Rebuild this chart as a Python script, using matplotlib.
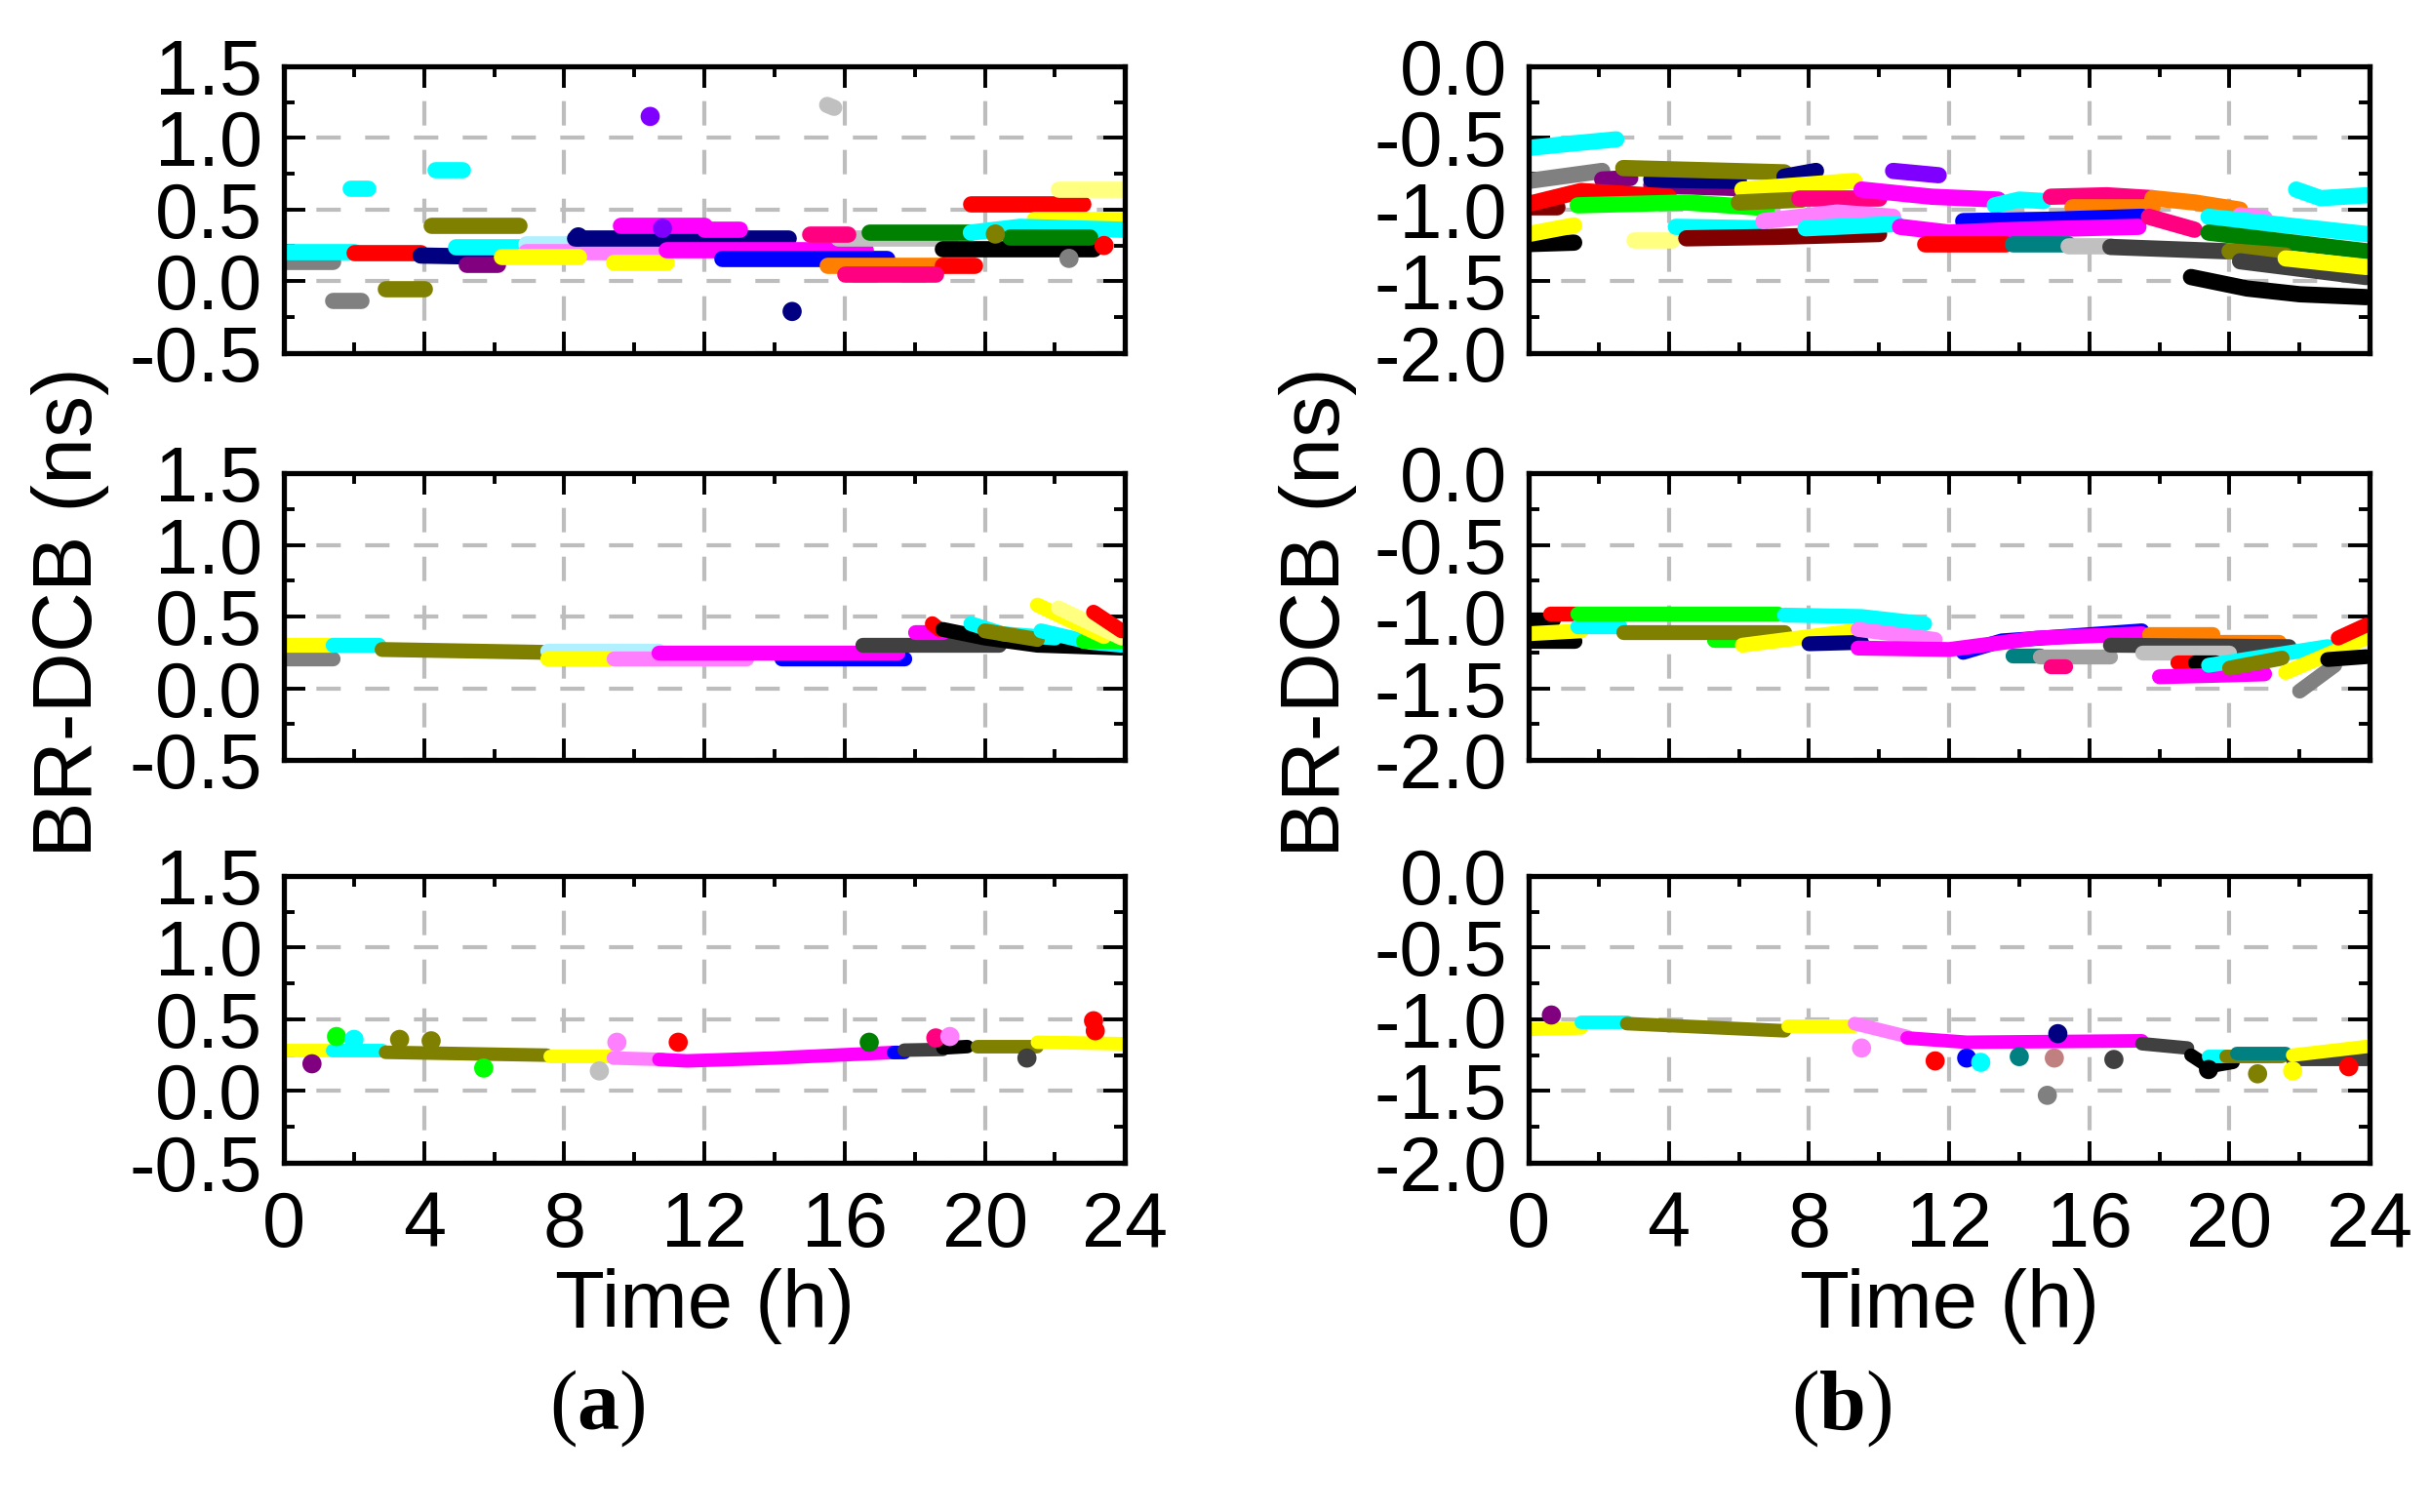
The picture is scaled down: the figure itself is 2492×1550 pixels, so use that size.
import matplotlib
matplotlib.use("Agg")
from matplotlib import pyplot as plt
from matplotlib.ticker import MultipleLocator, FormatStrFormatter

plt.rcParams['font.family'] = ['Liberation Sans', 'DejaVu Sans']
plt.rcParams['axes.unicode_minus'] = False
plt.rcParams['mathtext.fontset'] = 'custom'
plt.rcParams['mathtext.rm'] = 'Liberation Serif'
plt.rcParams['mathtext.bf'] = 'Liberation Serif:bold'

# Origin style colour names
BLK = '#000000'; RED = '#FF0000'; BLU = '#0000FF'; MAG = '#FF00FF'
OLV = '#808000'; NAV = '#000080'; PUR = '#800080'; WIN = '#800000'
TEA = '#008080'; ORA = '#FF8000'; VIO = '#8000FF'; PNK = '#FF0080'
LGR = '#C0C0C0'; GRY = '#808080'; LYL = '#FFFF80'; LMG = '#FF80FF'
DGR = '#404040'; GRN = '#00FF00'; CYN = '#00FFFF'; YEL = '#FFFF00'
DGN = '#008000'; LBL = '#B0F0FF'

##########################################
# (a) top panel : arcs (times, values, colour)

a1_times = [[0.0, 1.4], [0.1, 2.0], [2.0, 3.9], [3.9, 6.1], [5.2, 6.1],
            [4.9, 6.7], [6.9, 10.9], [6.9, 10.9], [6.2, 8.4], [9.4, 10.9],
            [4.2, 6.7], [4.3, 5.1], [1.4, 2.2], [2.9, 4.0], [1.9, 2.4],
            [8.3, 14.4], [9.6, 12.0], [12.0, 13.0], [10.9, 16.6], [12.5, 17.2],
            [15.5, 18.8], [18.8, 19.7], [16.0, 18.6], [15.8, 19.0], [15.0, 16.1],
            [16.7, 19.6], [18.8, 23.1], [19.6, 22.8], [22.1, 23.9], [21.4, 23.9],
            [19.6, 21.0, 23.9], [20.7, 23.0], [15.5, 15.7]]
a1_vals = [[0.14, 0.14], [0.21, 0.21], [0.20, 0.20], [0.18, 0.17], [0.12, 0.12],
           [0.24, 0.24], [0.26, 0.26], [0.21, 0.21], [0.17, 0.17], [0.13, 0.13],
           [0.39, 0.39], [0.78, 0.78], [-0.13, -0.13], [-0.05, -0.05], [0.65, 0.65],
           [0.30, 0.30], [0.39, 0.39], [0.36, 0.36], [0.22, 0.22], [0.16, 0.16],
           [0.11, 0.11], [0.11, 0.11], [0.05, 0.05], [0.30, 0.30], [0.33, 0.33],
           [0.34, 0.34], [0.23, 0.23], [0.54, 0.54], [0.64, 0.64], [0.43, 0.43],
           [0.34, 0.38, 0.36], [0.31, 0.31], [1.23, 1.21]]
a1_cols = [GRY, CYN, RED, NAV, PUR,
           CYN, LBL, LMG, YEL, YEL,
           OLV, CYN, GRY, OLV, CYN,
           NAV, MAG, MAG, MAG, BLU,
           ORA, RED, PNK, LGR, PNK,
           DGN, BLK, RED, LYL, YEL,
           CYN, DGN, LGR]
a1_dot_t = [10.45, 14.5, 10.8, 20.3, 22.4, 23.4, 8.4]
a1_dot_v = [1.15, -0.21, 0.37, 0.33, 0.16, 0.25, 0.31]
a1_dot_c = [VIO, NAV, VIO, OLV, GRY, RED, NAV]

# (a) middle panel
a2_times = [[0.0, 1.4], [0.0, 1.4], [1.4, 2.7], [2.8, 7.5], [7.5, 10.7],
            [7.5, 9.4], [9.4, 13.2], [14.2, 17.7], [10.7, 17.5], [16.5, 20.4],
            [18.0, 18.8], [18.5, 18.7], [18.8, 20.0, 21.5, 23.9], [19.6, 20.5, 22.0],
            [20.0, 21.5], [21.6, 23.0, 23.9], [22.8, 23.9], [21.5, 23.4],
            [22.1, 23.9], [23.1, 23.9]]
a2_vals = [[0.21, 0.21], [0.30, 0.30], [0.30, 0.30], [0.27, 0.25], [0.26, 0.26],
           [0.21, 0.21], [0.21, 0.21], [0.21, 0.21], [0.25, 0.25], [0.30, 0.30],
           [0.39, 0.39], [0.45, 0.41], [0.41, 0.35, 0.30, 0.28], [0.45, 0.38, 0.35],
           [0.40, 0.34], [0.40, 0.32, 0.30], [0.33, 0.33], [0.58, 0.36],
           [0.56, 0.35], [0.53, 0.40]]
a2_cols = [GRY, YEL, CYN, OLV, LBL,
           YEL, LMG, BLU, MAG, DGR,
           MAG, RED, BLK, CYN,
           OLV, CYN, GRN, YEL,
           LYL, RED]

# (a) bottom panel
a3_times = [[0.0, 1.4], [1.4, 2.8], [2.9, 7.5], [7.6, 9.4], [9.4, 10.8],
            [10.7, 11.5, 14.0, 17.5], [17.4, 17.7], [17.7, 18.8], [18.8, 19.5],
            [19.8, 21.5], [21.5, 23.9]]
a3_vals = [[0.285, 0.285], [0.285, 0.285], [0.27, 0.25], [0.24, 0.24], [0.23, 0.22],
           [0.22, 0.21, 0.23, 0.27], [0.27, 0.27], [0.285, 0.29], [0.30, 0.31],
           [0.31, 0.31], [0.34, 0.33]]
a3_cols = [YEL, CYN, OLV, YEL, LMG,
           MAG, BLU, DGR, BLK,
           OLV, YEL]
a3_dot_t = [0.8, 1.5, 2.0, 3.3, 4.2, 5.7, 9.0, 9.5, 11.25, 16.7, 18.6, 19.0, 23.1, 23.15, 21.2]
a3_dot_v = [0.19, 0.38, 0.36, 0.36, 0.35, 0.16, 0.14, 0.34, 0.34, 0.34, 0.37, 0.38, 0.49, 0.42, 0.23]
a3_dot_c = [PUR, GRN, CYN, OLV, OLV, GRN, LGR, LMG, RED, DGN, PNK, LMG, RED, RED, DGR]

##########################################
# (b) top panel

b1_times = [[0.0, 1.2, 2.5], [0.0, 2.1], [2.1, 2.9], [3.5, 6.0], [3.5, 6.0],
            [2.7, 7.3], [7.3, 8.2], [6.1, 9.3], [10.4, 11.7], [0.0, 0.8],
            [0.0, 1.5, 4.0], [1.4, 4.5, 6.8], [6.0, 7.8], [7.7, 10.0],
            [9.5, 11.5, 13.4], [13.3, 14.0, 14.7], [14.9, 16.5, 17.8], [15.5, 17.8],
            [17.8, 19.0, 20.3], [20.3, 21.0], [21.9, 22.6, 23.9], [0.0, 1.3],
            [0.0, 1.3], [3.0, 4.1], [4.2, 6.6], [4.5, 7.0, 10.0],
            [6.7, 8.8, 10.4], [7.9, 10.5], [12.4, 15.0, 17.5], [10.6, 12.0, 14.0, 17.4],
            [11.3, 13.6], [13.8, 15.4], [15.4, 16.6], [16.6, 19.9], [17.7, 19.0],
            [19.4, 23.9], [19.4, 23.9], [20.0, 21.6], [20.3, 23.9], [21.6, 23.9],
            [18.9, 20.5, 22.0, 23.9]]
b1_vals = [[-0.57, -0.54, -0.51], [-0.80, -0.73], [-0.79, -0.78], [-0.83, -0.85], [-0.79, -0.80],
           [-0.71, -0.74], [-0.77, -0.73], [-0.86, -0.80], [-0.73, -0.76], [-0.98, -0.98],
           [-0.96, -0.87, -0.91], [-0.97, -0.95, -0.99], [-0.95, -0.93], [-0.92, -0.92],
           [-0.86, -0.91, -0.93], [-0.97, -0.93, -0.94], [-0.91, -0.90, -0.92], [-0.98, -0.98],
           [-0.92, -0.95, -1.00], [-1.04, -1.06], [-0.86, -0.92, -0.90], [-1.24, -1.23],
           [-1.17, -1.11], [-1.21, -1.21], [-1.12, -1.13], [-1.20, -1.19, -1.17],
           [-1.08, -1.02, -1.05], [-1.13, -1.10], [-1.08, -1.07, -1.05], [-1.12, -1.16, -1.14, -1.12],
           [-1.24, -1.24], [-1.24, -1.24], [-1.25, -1.25], [-1.26, -1.29], [-1.05, -1.14],
           [-1.05, -1.17], [-1.16, -1.29], [-1.29, -1.32], [-1.36, -1.47], [-1.34, -1.40],
           [-1.47, -1.55, -1.59, -1.61]]
b1_cols = [CYN, GRY, PUR, PUR, NAV,
           OLV, NAV, YEL, VIO, WIN,
           RED, GRN, OLV, PNK,
           MAG, CYN, PNK, ORA,
           ORA, LMG, CYN, BLK,
           YEL, LYL, CYN, WIN,
           LMG, CYN, BLU, MAG,
           RED, TEA, LGR, DGR, PNK,
           CYN, DGN, OLV, DGR, YEL,
           BLK]

# (b) middle panel
b2_times = [[0.0, 0.7], [0.6, 1.4], [0.0, 1.3], [0.0, 1.5], [1.4, 2.6],
            [1.4, 7.1], [5.3, 5.9], [2.7, 7.3], [7.3, 9.5, 11.3], [6.1, 9.3],
            [8.0, 9.5], [9.4, 11.6], [12.4, 13.5, 17.5], [9.4, 12.0, 14.5, 17.5],
            [13.8, 14.6], [14.6, 16.6], [14.9, 15.3], [17.7, 19.5], [19.5, 21.4],
            [16.6, 21.7], [17.5, 20.0], [18.5, 19.0], [19.0, 19.6],
            [18.0, 19.6, 21.0], [19.4, 22.8], [20.0, 21.5], [22.0, 23.0],
            [21.6, 23.9], [23.1, 23.9], [22.8, 23.9]]
b2_vals = [[-1.02, -1.02], [-0.98, -0.98], [-1.17, -1.17], [-1.12, -1.10], [-1.07, -1.07],
           [-0.98, -0.98], [-1.16, -1.16], [-1.11, -1.11], [-0.99, -1.00, -1.05], [-1.20, -1.10],
           [-1.19, -1.18], [-1.09, -1.16], [-1.25, -1.17, -1.10], [-1.22, -1.23, -1.15, -1.12],
           [-1.27, -1.27], [-1.28, -1.28], [-1.35, -1.35], [-1.12, -1.12], [-1.18, -1.18],
           [-1.20, -1.21], [-1.25, -1.25], [-1.32, -1.32], [-1.32, -1.32],
           [-1.42, -1.41, -1.40], [-1.34, -1.21], [-1.36, -1.29], [-1.52, -1.34],
           [-1.39, -1.15], [-1.15, -1.06], [-1.30, -1.28]]
b2_cols = [BLK, RED, BLK, YEL, CYN,
           GRN, GRN, OLV, CYN, YEL,
           NAV, LMG, BLU, MAG,
           TEA, '#A0A0A0', PNK, ORA, ORA,
           DGR, LGR, RED, BLK,
           MAG, CYN, OLV, GRY,
           YEL, RED, BLK]

# (b) bottom panel
b3_times = [[0.0, 1.5], [1.5, 2.8], [2.8, 7.3], [7.4, 9.3], [9.3, 10.8],
            [10.8, 12.5, 17.5], [17.5, 18.8], [18.9, 19.4, 20.1], [19.4, 19.9],
            [19.9, 21.5], [20.2, 21.6], [21.8, 23.9], [21.8, 23.9]]
b3_vals = [[-1.07, -1.06], [-1.02, -1.02], [-1.03, -1.08], [-1.05, -1.05], [-1.03, -1.12],
           [-1.13, -1.16, -1.15], [-1.17, -1.20], [-1.25, -1.33, -1.30], [-1.26, -1.26],
           [-1.26, -1.26], [-1.24, -1.24], [-1.28, -1.28], [-1.25, -1.19]]
b3_cols = [YEL, CYN, OLV, YEL, LMG,
           MAG, DGR, BLK, CYN,
           OLV, TEA, DGR, YEL]
b3_dot_t = [0.65, 9.5, 11.6, 12.5, 12.9, 14.0, 15.0, 15.1, 14.8, 16.7, 20.8, 21.8, 23.4, 19.4]
b3_dot_v = [-0.97, -1.20, -1.29, -1.27, -1.30, -1.26, -1.27, -1.10, -1.53, -1.28, -1.38, -1.36, -1.33, -1.35]
b3_dot_c = [PUR, LMG, RED, BLU, CYN, TEA, '#C08080', NAV, GRY, DGR, OLV, YEL, RED, BLK]

##########################################


def drawPanel(ax, times, vals, cols, lw, dot_t=None, dot_v=None, dot_c=None, ylim=(-0.5, 1.5)):
    '''draws the arcs of one panel and styles the axes'''
    for t, v, c in zip(times, vals, cols):
        ax.plot(t, v, color=c, lw=lw, solid_capstyle='round', solid_joinstyle='round', zorder=3)
    if dot_t is not None:
        ax.scatter(dot_t, dot_v, s=200, c=dot_c, lw=0, zorder=4)
    ax.set_xlim(0, 24)
    ax.set_ylim(*ylim)
    ax.xaxis.set_major_locator(MultipleLocator(4))
    ax.xaxis.set_minor_locator(MultipleLocator(2))
    ax.yaxis.set_major_locator(MultipleLocator(0.5))
    ax.yaxis.set_minor_locator(MultipleLocator(0.25))
    ax.yaxis.set_major_formatter(FormatStrFormatter('%.1f'))
    ax.grid(True, which='major', color='#BDBDBD', lw=3.0, ls=(4, (6, 6)), zorder=1)
    ax.tick_params(which='both', direction='in', top=True, right=True, width=2.8, labelsize=57)
    ax.tick_params(which='major', length=16, pad=16)
    ax.tick_params(which='minor', length=8)
    ax.tick_params(axis='x', which='major', pad=20)
    for s in ax.spines.values():
        s.set_linewidth(3.8)
        s.set_zorder(5)


fig = plt.figure(figsize=(24.92, 15.5), dpi=100)

lefts = [0.1168, 0.6288]
width = 0.3460
bottoms = [0.7665, 0.4974, 0.2310]
height = 0.1897

axs = [[fig.add_axes([l, b, width, height]) for b in bottoms] for l in lefts]

drawPanel(axs[0][0], a1_times, a1_vals, a1_cols, 12, a1_dot_t, a1_dot_v, a1_dot_c)
drawPanel(axs[0][1], a2_times, a2_vals, a2_cols, 11)
drawPanel(axs[0][2], a3_times, a3_vals, a3_cols, 10, a3_dot_t, a3_dot_v, a3_dot_c)
drawPanel(axs[1][0], b1_times, b1_vals, b1_cols, 12, ylim=(-2.0, 0.0))
drawPanel(axs[1][1], b2_times, b2_vals, b2_cols, 11, ylim=(-2.0, 0.0))
drawPanel(axs[1][2], b3_times, b3_vals, b3_cols, 10, b3_dot_t, b3_dot_v, b3_dot_c, ylim=(-2.0, 0.0))

for col in axs:
    for ax in col[:2]:
        ax.tick_params(labelbottom=False)

for l, name, cx in zip(lefts, ['a', 'b'], [0.2456, 0.7576]):
    fig.text(l + width / 2, 0.136, 'Time (h)', ha='center', va='center', fontsize=60)
    fig.text(cx, 0.068, r'($\mathbf{%s}$)' % name, ha='center', va='center',
             fontsize=62, family='Liberation Serif')

fig.text(0.029, 0.595, 'BR-DCB (ns)', rotation=90, ha='center', va='center', fontsize=62)
fig.text(0.542, 0.595, 'BR-DCB (ns)', rotation=90, ha='center', va='center', fontsize=62)

fig.savefig('out.png', dpi=100)
